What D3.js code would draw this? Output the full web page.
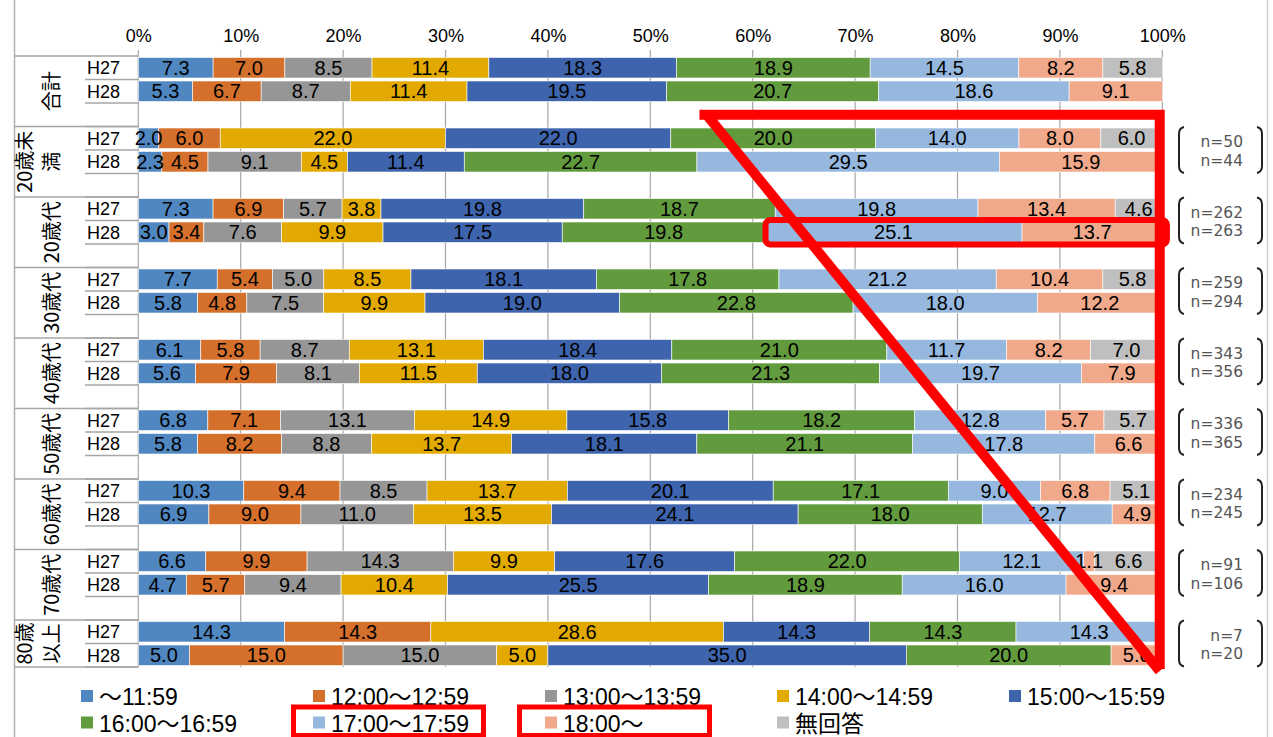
<!DOCTYPE html>
<html><head><meta charset="utf-8">
<script src="https://cdn.jsdelivr.net/npm/d3@7"></script>
<style>
html,body{margin:0;padding:0;background:#fff;}
svg{display:block;}
</style></head><body>
<svg id="chart" width="1273" height="737"></svg>
<script>
// ---------------- data ----------------
const categories = ["合計","20歳未満","20歳代","30歳代","40歳代","50歳代","60歳代","70歳代","80歳以上"];
const categoryLabelLines = [["合計"],["20歳未","満"],["20歳代"],["30歳代"],["40歳代"],["50歳代"],["60歳代"],["70歳代"],["80歳","以上"]];
const years = ["H27","H28"];
const seriesNames = ["～11:59","12:00～12:59","13:00～13:59","14:00～14:59","15:00～15:59","16:00～16:59","17:00～17:59","18:00～","無回答"];
const valuesH27 = [
  [7.3, 7.0, 8.5, 11.4, 18.3, 18.9, 14.5, 8.2, 5.8],
  [2.0, 6.0, 0, 22.0, 22.0, 20.0, 14.0, 8.0, 6.0],
  [7.3, 6.9, 5.7, 3.8, 19.8, 18.7, 19.8, 13.4, 4.6],
  [7.7, 5.4, 5.0, 8.5, 18.1, 17.8, 21.2, 10.4, 5.8],
  [6.1, 5.8, 8.7, 13.1, 18.4, 21.0, 11.7, 8.2, 7.0],
  [6.8, 7.1, 13.1, 14.9, 15.8, 18.2, 12.8, 5.7, 5.7],
  [10.3, 9.4, 8.5, 13.7, 20.1, 17.1, 9.0, 6.8, 5.1],
  [6.6, 9.9, 14.3, 9.9, 17.6, 22.0, 12.1, 1.1, 6.6],
  [14.3, 14.3, 0, 28.6, 14.3, 14.3, 14.3, 0, 0]
];
const valuesH28 = [
  [5.3, 6.7, 8.7, 11.4, 19.5, 20.7, 18.6, 9.1, 0],
  [2.3, 4.5, 9.1, 4.5, 11.4, 22.7, 29.5, 15.9, 0],
  [3.0, 3.4, 7.6, 9.9, 17.5, 19.8, 25.1, 13.7, 0],
  [5.8, 4.8, 7.5, 9.9, 19.0, 22.8, 18.0, 12.2, 0],
  [5.6, 7.9, 8.1, 11.5, 18.0, 21.3, 19.7, 7.9, 0],
  [5.8, 8.2, 8.8, 13.7, 18.1, 21.1, 17.8, 6.6, 0],
  [6.9, 9.0, 11.0, 13.5, 24.1, 18.0, 12.7, 4.9, 0],
  [4.7, 5.7, 9.4, 10.4, 25.5, 18.9, 16.0, 9.4, 0],
  [5.0, 15.0, 15.0, 5.0, 35.0, 20.0, 0, 5.0, 0]
];
const sampleH27 = [null, 50, 262, 259, 343, 336, 234, 91, 7];
const sampleH28 = [null, 44, 263, 294, 356, 365, 245, 106, 20];
const tickValues = [0, 0.1, 0.2, 0.3, 0.4, 0.5, 0.6, 0.7, 0.8, 0.9, 1];
const tickLabels = ["0%","10%","20%","30%","40%","50%","60%","70%","80%","90%","100%"];
const highlightedSeries = ["17:00～17:59","18:00～"];

// ---------------- styles ----------------
const seriesColors = ["#5087C0","#D4702C","#969696","#E2AA00","#3D64AC","#629B3E","#96B8DF","#F1A98B","#BFBFBF"];
const numFont = "'Liberation Sans Narrow','Arial Narrow','Liberation Sans',Arial,sans-serif";
const latFont = "'Liberation Sans',Arial,'Noto Sans CJK JP',sans-serif";
const cjkFont = "'Noto Sans CJK JP','Liberation Sans',sans-serif";
const gridColor = "#A6A6A6";
const red = "#FF0000";

const svg = d3.select("#chart");

// rows: H27, H28, spacer per category (no spacer after last)
const rows = [];
categories.forEach((c, i) => {
  years.forEach((yr, j) => {
    const vals = (j === 0 ? valuesH27 : valuesH28)[i];
    const r = {key: i + "-" + yr, cat: i, year: yr};
    seriesNames.forEach((s, k) => r[s] = vals[k]);
    rows.push(r);
  });
  if (i < categories.length - 1) rows.push({key: i + "-gap", cat: i, year: null, blank: true});
});
const dataRows = rows.filter(r => !r.blank);

const x = d3.scaleLinear().domain([0, 1]).range([138.3, 1162.3]);
const y = d3.scaleBand().domain(rows.map(r => r.key)).range([56, 667]).padding(0);
const bw = y.bandwidth();

// frame
svg.append("line").attr("x1", 14.5).attr("x2", 14.5).attr("y1", 0).attr("y2", 737)
  .attr("stroke", "#B0B0B0").attr("stroke-width", 1.5);
svg.append("line").attr("x1", 1267.5).attr("x2", 1267.5).attr("y1", 0).attr("y2", 737)
  .attr("stroke", "#D0D0D0").attr("stroke-width", 1.5);

// gridlines
svg.append("g").selectAll("line").data(tickValues).join("line")
  .attr("x1", d => x(d)).attr("x2", d => x(d))
  .attr("y1", 50).attr("y2", y.range()[1])
  .attr("stroke", gridColor).attr("stroke-width", 1.2);

// top axis
const axis = d3.axisTop(x).tickValues(tickValues).tickFormat((d, i) => tickLabels[i]).tickSize(0).tickPadding(0);
const gAxis = svg.append("g").attr("transform", "translate(0,42)").call(axis);
gAxis.select(".domain").remove();
gAxis.selectAll("text").attr("font-family", numFont).attr("font-size", 18).attr("fill", "#000");

// stacked bars
const stacked = d3.stack().keys(seriesNames).offset(d3.stackOffsetExpand)(dataRows);
const layers = svg.append("g").selectAll("g").data(stacked).join("g")
  .attr("fill", (d, i) => seriesColors[i]);
layers.selectAll("rect").data(d => d.filter(s => s.data[d.key] > 0)).join("rect")
  .attr("x", d => x(d[0])).attr("width", d => x(d[1]) - x(d[0]))
  .attr("y", d => y(d.data.key) + 1.5).attr("height", bw - 3)
  .attr("stroke", "#fff").attr("stroke-width", 0.6);

// value labels
const labels = svg.append("g").attr("font-family", numFont).attr("font-size", 20).attr("fill", "#000")
  .attr("text-anchor", "middle");
stacked.forEach(layer => {
  layer.forEach(s => {
    const v = s.data[layer.key];
    if (v > 0) {
      labels.append("text")
        .attr("x", (x(s[0]) + x(s[1])) / 2)
        .attr("y", y(s.data.key) + bw / 2)
        .attr("dy", "0.36em")
        .text(d3.format(".1f")(v));
    }
  });
});

// category table lines
const tbl = svg.append("g").attr("stroke", gridColor).attr("stroke-width", 1.5);
rows.forEach(r => {
  tbl.append("line").attr("x1", 85).attr("x2", x(0))
    .attr("y1", y(r.key) + bw).attr("y2", y(r.key) + bw);
});
const groupEdges = categories.map((c, i) => y(i + "-H27")).concat([y(categories.length - 1 + "-H28") + bw]);
groupEdges.forEach(e => {
  tbl.append("line").attr("x1", 14).attr("x2", x(0)).attr("y1", e).attr("y2", e);
});

// year labels
svg.append("g").selectAll("text").data(dataRows).join("text")
  .attr("x", 87).attr("y", d => y(d.key) + bw / 2).attr("dy", "0.36em")
  .attr("font-family", latFont).attr("font-size", 18).attr("fill", "#000")
  .text(d => d.year);

// category labels (vertical)
categoryLabelLines.forEach((lines, i) => {
  const top = groupEdges[i];
  const bot = y(i + "-H28") + bw + (i < categories.length - 1 ? bw : 0);
  const cy = (top + bot) / 2;
  lines.forEach((ln, j) => {
    const cx = 52 - (lines.length - 1 - j) * 27;
    svg.append("text")
      .attr("transform", `translate(${cx},${cy}) rotate(-90)`)
      .attr("text-anchor", "middle").attr("dy", "0.35em")
      .attr("font-family", cjkFont).attr("font-size", 20).attr("fill", "#000")
      .text(ln);
  });
});

// sample size brackets
categories.forEach((c, i) => {
  if (sampleH27[i] == null) return;
  const top = y(i + "-H27") + 0.5;
  const bot = y(i + "-H28") + bw - 0.5;
  const cy = (top + bot) / 2;
  const g = svg.append("g");
  g.append("path")
    .attr("d", `M1184,${top} Q1179,${top + 1} 1179,${top + 7} L1179,${bot - 7} Q1179,${bot - 1} 1184,${bot}`)
    .attr("fill", "none").attr("stroke", "#222").attr("stroke-width", 2);
  g.append("path")
    .attr("d", `M1257,${top} Q1262,${top + 1} 1262,${top + 7} L1262,${bot - 7} Q1262,${bot - 1} 1257,${bot}`)
    .attr("fill", "none").attr("stroke", "#222").attr("stroke-width", 2);
  const t = g.append("g").attr("font-family", "'DejaVu Sans',sans-serif").attr("font-size", 15.5)
    .attr("fill", "#555").attr("text-anchor", "end");
  t.append("text").attr("x", 1243).attr("y", cy - 3).text("n=" + sampleH27[i]);
  t.append("text").attr("x", 1243).attr("y", cy + 15.5).text("n=" + sampleH28[i]);
});

// legend
const legendX = i => 81 + (i % 5) * 232;
const legendY = i => 690 + Math.floor(i / 5) * 26.5;
const lg = svg.append("g");
seriesNames.forEach((s, i) => {
  lg.append("rect").attr("x", legendX(i)).attr("y", legendY(i)).attr("width", 12).attr("height", 12)
    .attr("fill", seriesColors[i]);
  lg.append("text").attr("x", legendX(i) + 18).attr("y", legendY(i) + 15)
    .attr("font-family", latFont).attr("font-size", 23).attr("fill", "#000").text(s);
});

// red annotations
const ann = svg.append("g").attr("fill", "none").attr("stroke", red);
const yTop = y("0-gap") + bw / 2;
const yBot = y.range()[1] + 2;
ann.append("path")
  .attr("d", `M${x(0.548)},${yTop} L${x(0.9975)},${yTop} L${x(0.9975)},${yBot}`)
  .attr("stroke-width", 10).attr("stroke-linejoin", "miter");
ann.append("line")
  .attr("x1", x(0.555)).attr("y1", yTop).attr("x2", x(0.9975)).attr("y2", yBot + 2)
  .attr("stroke-width", 10);
ann.append("rect")
  .attr("x", x(0.6125)).attr("y", y("2-H28") - 0.5)
  .attr("width", x(1.0045) - x(0.6125)).attr("height", bw + 1)
  .attr("rx", 5).attr("stroke-width", 6);
const annOffsets = [19.5, 25.5];
highlightedSeries.forEach((s, j) => {
  const i = seriesNames.indexOf(s);
  ann.append("rect")
    .attr("x", legendX(i) - annOffsets[j]).attr("y", legendY(i) - 9.5)
    .attr("width", 190).attr("height", 28.5)
    .attr("stroke-width", 5);
});
</script>
</body></html>
